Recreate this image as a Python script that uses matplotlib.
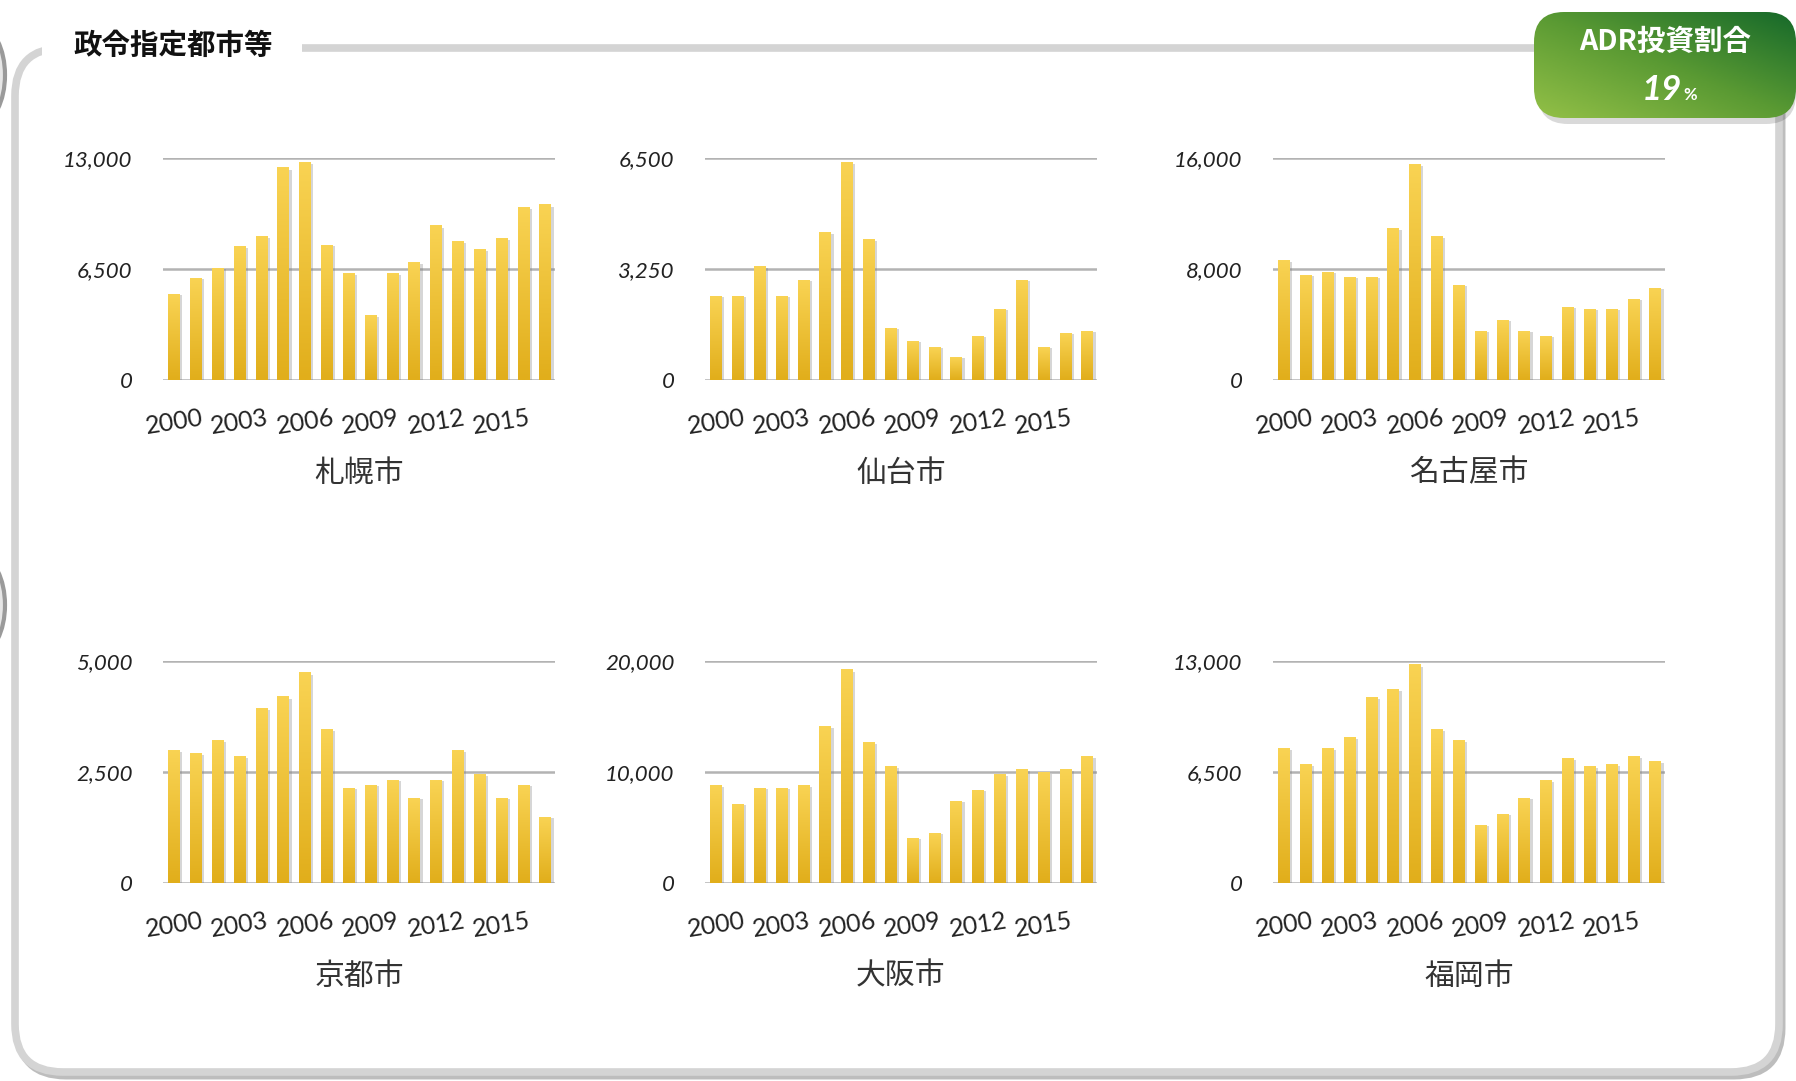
import numpy as np
import matplotlib.pyplot as plt
from matplotlib.patches import FancyBboxPatch, Rectangle, Ellipse
from matplotlib.colors import LinearSegmentedColormap
from matplotlib.ticker import FuncFormatter

plt.rcParams['font.family'] = ['Lato', 'Noto Sans CJK JP', 'DejaVu Sans']

years = list(range(2000, 2018))
label_years = ['2000', '2003', '2006', '2009', '2012', '2015']
cities = ['札幌市', '仙台市', '名古屋市', '京都市', '大阪市', '福岡市']
sapporo = [5000, 5950, 6550, 7800, 8380, 12450, 12750, 7900, 6230, 3750,
           6230, 6870, 9020, 8090, 7620, 8270, 10130, 10260]
sendai = [2450, 2450, 3320, 2450, 2920, 4330, 6380, 4110, 1510, 1120,
          950, 650, 1270, 2070, 2920, 950, 1360, 1420]
nagoya = [8580, 7560, 7780, 7420, 7420, 10910, 15560, 10330, 6840, 3490,
          4290, 3490, 3130, 5240, 5090, 5090, 5820, 6620]
kyoto = [2990, 2920, 3210, 2850, 3940, 4190, 4730, 3460, 2130, 2200,
         2310, 1900, 2310, 2990, 2440, 1900, 2200, 1470]
osaka = [8780, 7060, 8510, 8510, 8780, 14120, 19190, 12670, 10500, 3980,
         4430, 7330, 8330, 9770, 10230, 9960, 10230, 11400]
fukuoka = [7880, 6940, 7880, 8530, 10880, 11350, 12770, 9000, 8350, 3350,
           4000, 4940, 6000, 7290, 6820, 6940, 7410, 7120]
series = [sapporo, sendai, nagoya, kyoto, osaka, fukuoka]
y_max = [13000, 6500, 16000, 5000, 20000, 13000]

W, H = 1796, 1081
fig = plt.figure(figsize=(W / 100, H / 100), dpi=100)

# background: frame, title, badge (pixel coordinates)
bg = fig.add_axes([0, 0, 1, 1])
bg.set_xlim(0, W); bg.set_ylim(H, 0); bg.axis('off')

for cy in (75, 605):
    bg.add_patch(Ellipse((-20, cy), 50, 96, fc='#e6e6e6', ec='#9a9a9a', lw=3))

bg.add_patch(FancyBboxPatch((18, 52), 1764, 1024, boxstyle='round,pad=0,rounding_size=48',
                            fc='none', ec='#bdbdbd', lw=5))
bg.add_patch(FancyBboxPatch((15, 48), 1764, 1024, boxstyle='round,pad=0,rounding_size=48',
                            fc='white', ec='#d4d4d4', lw=5.5))
bg.add_patch(Rectangle((42, 36), 260, 26, fc='white', ec='none'))
bg.text(73, 46, '政令指定都市等', fontsize=20.5, fontweight='bold', color='#111111',
        family=['Noto Sans CJK JP'], ha='left', va='center')

# green badge
bg.add_patch(FancyBboxPatch((1538, 18), 258, 106, boxstyle='round,pad=0,rounding_size=30',
                            fc='#000000', ec='none', alpha=0.15, zorder=3))
badge = FancyBboxPatch((1534, 12), 262, 106, boxstyle='round,pad=0,rounding_size=30',
                       fc='none', ec='none', zorder=3)
bg.add_patch(badge)
m, n = 60, 160
rr, cc = np.mgrid[0:m, 0:n]
grad = (cc / (n - 1) + (1 - rr / (m - 1))) / 2
green = LinearSegmentedColormap.from_list('g', ['#93c047', '#5a9a33', '#16692a'])
im = bg.imshow(grad, extent=[1534, 1796, 118, 12], cmap=green, aspect='auto', zorder=4)
im.set_clip_path(badge)
bg.set_xlim(0, W); bg.set_ylim(H, 0)
bg.text(1665, 42, 'ADR投資割合', fontsize=20.5, fontweight='bold', color='white',
        family=['Noto Sans CJK JP'], ha='center', va='center', zorder=5)
bg.text(1682, 100, '19', fontsize=25, fontweight='bold', fontstyle='italic',
        color='white', ha='right', va='baseline', zorder=5)
bg.text(1683, 100, '%', fontsize=12, fontweight='bold', color='white',
        ha='left', va='baseline', zorder=5)

# charts
bar_cmap = LinearSegmentedColormap.from_list('bar', ['#f9d353', '#e1ae1b'])
bar_grad = np.linspace(0, 1, 100).reshape(-1, 1)
lefts = [163, 705, 1273]
tops = [158, 661]
aw, ah = 392, 222
x = np.arange(len(years))

for i, (name, vals, top) in enumerate(zip(cities, series, y_max)):
    left = lefts[i % 3]
    t = tops[i // 3]
    ax = fig.add_axes([left / W, 1 - (t + ah) / H, aw / W, ah / H])
    vals = np.array(vals)
    ax.bar(x + 0.13, vals * 0.99, width=0.52, color='#7a7a7a', alpha=0.3, zorder=2)
    bars = ax.bar(x, vals, width=0.52, color='none', zorder=3)
    for b in bars:
        ax.imshow(bar_grad, extent=[b.get_x(), b.get_x() + b.get_width(), 0, b.get_height()],
                  cmap=bar_cmap, aspect='auto', zorder=3)
    ax.set_xlim(-0.5, 17.45)
    ax.set_ylim(0, top)
    ax.set_yticks([0, top / 2, top])
    ax.yaxis.set_major_formatter(FuncFormatter(lambda v, p: f'{v:,.0f}'))
    ax.grid(axis='y', color='#b3b3b3', lw=1.8, zorder=1)
    ax.set_axisbelow(True)
    for s in ax.spines.values():
        s.set_visible(False)
    ax.set_xticks(x[::3])
    ax.set_xticklabels(label_years, rotation=9, fontsize=18, color='#222222')
    ax.tick_params(axis='x', length=0, pad=19)
    ax.tick_params(axis='y', length=0, pad=22, labelsize=16, labelcolor='#222222')
    for lab in ax.get_yticklabels():
        lab.set_fontstyle('italic')
    ax.text(0.5, -0.42, name, transform=ax.transAxes, ha='center', va='center',
            fontsize=21.5, color='#333333', family=['Noto Sans CJK JP'])

fig.savefig('out.png', dpi=100)
